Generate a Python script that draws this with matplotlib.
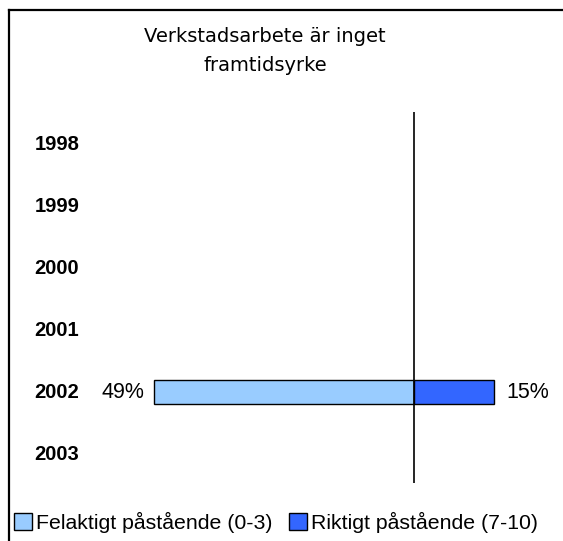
import matplotlib
matplotlib.use('Agg')
import matplotlib.pyplot as plt
from matplotlib.lines import Line2D
from matplotlib.patches import Patch
import numpy as np

years = ['1998', '1999', '2000', '2001', '2002', '2003']
felaktigt = [np.nan, np.nan, np.nan, np.nan, 49, np.nan]   # Felaktigt påstående (0-3)
riktigt = [np.nan, np.nan, np.nan, np.nan, 15, np.nan]     # Riktigt påstående (7-10)
title = 'Verkstadsarbete är inget\nframtidsyrke'
legend_labels = ['Felaktigt påstående (0-3)', 'Riktigt påstående (7-10)']

light = '#99CCFF'
dark = '#3366FF'

W, H = 563, 541
fig = plt.figure(figsize=(W / 100, H / 100), dpi=100)
ax = fig.add_axes([100 / W, 1 - 483 / H, 455 / W, 371 / H])

y = np.arange(len(years))
fel = np.array(felaktigt, dtype=float)
rik = np.array(riktigt, dtype=float)
ok = ~np.isnan(fel)
b1 = ax.barh(y[ok] + 0.03, -fel[ok], height=0.38, color=light, edgecolor='black', linewidth=1)
ok2 = ~np.isnan(rik)
b2 = ax.barh(y[ok2] + 0.03, rik[ok2], height=0.38, color=dark, edgecolor='black', linewidth=1)
ax.bar_label(b1, labels=['%d%%' % v for v in fel[ok]], padding=7, fontsize=15.5,
             family='Liberation Sans')
ax.bar_label(b2, labels=['%d%%' % v for v in rik[ok2]], padding=9, fontsize=15.5,
             family='Liberation Sans')

ax.axvline(0, color='black', linewidth=1.2)
ax.set_xlim(-59.1, 26.5)
ax.set_ylim(len(years) - 0.5, -0.5)
ax.set_yticks(y)
ax.set_yticklabels(years, fontsize=14.5, fontweight='bold', family='Liberation Sans')
ax.tick_params(axis='y', length=0, pad=15)
ax.set_xticks([])
for s in ax.spines.values():
    s.set_visible(False)

fig.text(265 / W, 1 - 51 / H, title, ha='center', va='center', fontsize=14,
         linespacing=1.65)

handles = [Patch(facecolor=light, edgecolor='black'), Patch(facecolor=dark, edgecolor='black')]
fig.legend(handles, legend_labels, loc='center left', bbox_to_anchor=(14 / W, 1 - 522 / H),
           ncol=2, frameon=False, prop={'family': 'Liberation Sans', 'size': 15.3},
           handlelength=0.85, handleheight=0.85, handletextpad=0.2, columnspacing=0.75,
           borderaxespad=0, borderpad=0)

# outer frame (only top and left edges visible)
fig.add_artist(Line2D([8.5 / W, 1], [1 - 9.5 / H, 1 - 9.5 / H], color='black', linewidth=1.6,
                      transform=fig.transFigure))
fig.add_artist(Line2D([8.5 / W, 8.5 / W], [0, 1 - 9.5 / H], color='black', linewidth=1.6,
                      transform=fig.transFigure))

fig.savefig('out.png', dpi=100, facecolor='white')
